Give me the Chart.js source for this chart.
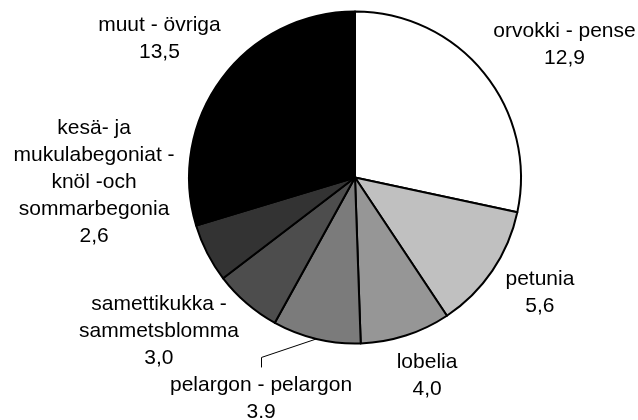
<!DOCTYPE html>
<html>
<head>
<meta charset="utf-8">
<script src="https://cdn.jsdelivr.net/npm/chart.js@4.4.1/dist/chart.umd.min.js"></script>
<style>
html,body{margin:0;padding:0;background:#fff;}
#wrap{width:638px;height:420px;position:relative;}
</style>
</head>
<body>
<div id="wrap"><canvas id="c" width="638" height="420"></canvas></div>
<script>
// ---- data ----
const categories = [
  ['orvokki - pense'],
  ['petunia'],
  ['lobelia'],
  ['pelargon - pelargon'],
  ['samettikukka -', 'sammetsblomma'],
  ['kesä- ja', 'mukulabegoniat -', 'knöl -och', 'sommarbegonia'],
  ['muut - övriga']
];
const values = [12.9, 5.6, 4.0, 3.9, 3.0, 2.6, 13.5];
const valueTexts = ['12,9', '5,6', '4,0', '3.9', '3,0', '2,6', '13,5'];

// ---- styles / layout ----
const sliceColors = ['#ffffff', '#c0c0c0', '#969696', '#7b7b7b', '#4d4d4d', '#333333', '#000000'];
// label block centre offsets from pie centre, in units of the radius
const labelOffsets = [
  [1.262, -0.798],
  [1.114, 0.693],
  [0.434, 1.193],
  [-0.566, 1.334],
  [-1.181, 0.925],
  [-1.572, 0.027],
  [-1.178, -0.834]
];
const leaderSlices = [3];
const FONT = '21px "Liberation Sans", Arial, sans-serif';
const LINE_H = 27;

const labelPlugin = {
  id: 'pieLabels',
  afterDatasetsDraw(chart) {
    const ctx = chart.ctx;
    const meta = chart.getDatasetMeta(0);
    ctx.save();
    ctx.font = FONT;
    ctx.fillStyle = '#000';
    ctx.textAlign = 'center';
    ctx.textBaseline = 'middle';
    meta.data.forEach((arc, i) => {
      const cx = arc.x, cy = arc.y, r = arc.outerRadius;
      const lx = cx + labelOffsets[i][0] * r;
      const ly = cy + labelOffsets[i][1] * r;
      const lines = categories[i].concat([valueTexts[i]]);
      const top = ly - (lines.length - 1) * LINE_H / 2;
      lines.forEach((t, k) => ctx.fillText(t, lx, top + k * LINE_H));
      if (leaderSlices.includes(i)) {
        const mid = (arc.startAngle + arc.endAngle) / 2;
        const ex = cx + Math.cos(mid) * r;
        const ey = cy + Math.sin(mid) * r;
        const bx = lx;
        const by0 = top - 18;
        const by1 = top - 28;
        ctx.beginPath();
        ctx.strokeStyle = '#000';
        ctx.lineWidth = 1;
        ctx.moveTo(Math.round(bx) + 0.5, by0);
        ctx.lineTo(Math.round(bx) + 0.5, by1);
        ctx.lineTo(ex, ey);
        ctx.stroke();
      }
    });
    ctx.restore();
  }
};

new Chart(document.getElementById('c'), {
  type: 'pie',
  data: {
    labels: categories.map(c => c.join(' ')),
    datasets: [{
      data: values,
      backgroundColor: sliceColors,
      borderColor: '#000',
      borderWidth: 2,
      borderJoinStyle: 'round'
    }]
  },
  options: {
    responsive: false,
    animation: false,
    radius: 166,
    layout: { padding: { left: 72, right: 0, top: 0, bottom: 65 } },
    plugins: {
      legend: { display: false },
      tooltip: { enabled: false }
    }
  },
  plugins: [labelPlugin]
});
</script>
</body>
</html>
